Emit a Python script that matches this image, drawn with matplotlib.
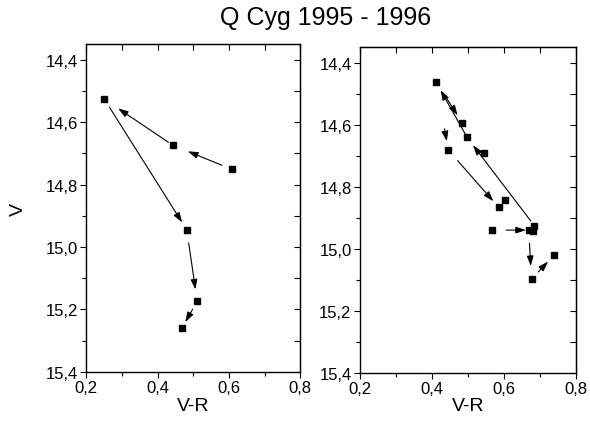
import matplotlib
matplotlib.use("Agg")
import matplotlib.pyplot as plt
from matplotlib.ticker import MultipleLocator, FuncFormatter

plt.rcParams['font.family'] = ['Liberation Sans', 'DejaVu Sans']

# 1995 - left panel
vr_1995 = [0.251, 0.442, 0.608, 0.482, 0.511, 0.468]
v_1995 = [14.526, 14.673, 14.751, 14.945, 15.174, 15.260]
# arrows: (from, to)
arrows_1995 = [(2, 1), (1, 0), (0, 3), (3, 4), (4, 5)]
# gap left at tail / head of each arrow, in points
gaps_1995 = [(7.6, 12), (3.6, 12), (7, 6.3), (9.4, 8.6), (6.5, 5)]

# 1996 - right panel
vr_1996 = [0.411, 0.485, 0.498, 0.446, 0.546, 0.586, 0.604,
           0.568, 0.669, 0.685, 0.680, 0.677, 0.740]
v_1996 = [14.461, 14.594, 14.641, 14.682, 14.692, 14.867, 14.844,
          14.940, 14.940, 14.926, 14.944, 15.098, 15.020]
arrows_1996 = [(2, 0), (0, 1), (0, 3), (9, 2), (3, 5), (7, 8), (8, 11), (11, 12)]
gaps_1996 = [(3, 7), (14, 6.5), (34.5, 6.5), (4.3, 7), (10, 6), (10, 2), (9.4, 9.4), (7, 6.5)]

comma = FuncFormatter(lambda v, pos: f"{v:.1f}".replace(".", ","))


def setup_axes(ax):
    ax.set_xlim(0.2, 0.8)
    ax.set_ylim(15.4, 14.35)
    ax.xaxis.set_major_locator(MultipleLocator(0.2))
    ax.xaxis.set_minor_locator(MultipleLocator(0.1))
    ax.yaxis.set_major_locator(MultipleLocator(0.2))
    ax.yaxis.set_minor_locator(MultipleLocator(0.1))
    ax.xaxis.set_major_formatter(comma)
    ax.yaxis.set_major_formatter(comma)
    ax.tick_params(which='both', direction='out', labelsize=12, width=0.8, pad=2)
    ax.tick_params(which='major', length=4)
    ax.tick_params(which='minor', length=3)
    for s in ax.spines.values():
        s.set_linewidth(1.0)
    # top / right ticks point inward
    top = ax.secondary_xaxis('top')
    top.xaxis.set_major_locator(MultipleLocator(0.2))
    top.xaxis.set_minor_locator(MultipleLocator(0.1))
    top.tick_params(which='both', direction='in', labeltop=False, length=4, width=0.8)
    right = ax.secondary_yaxis('right')
    right.yaxis.set_major_locator(MultipleLocator(0.2))
    right.yaxis.set_minor_locator(MultipleLocator(0.1))
    right.tick_params(which='both', direction='in', labelright=False, length=4, width=0.8)
    ax.set_xlabel("V-R", fontsize=14, labelpad=1)


def draw(ax, x, y, arrows, gaps):
    ax.plot(x, y, 's', color='black', markersize=5, linestyle='none')
    for (i, j), (ga, gb) in zip(arrows, gaps):
        ax.annotate("", xy=(x[j], y[j]), xytext=(x[i], y[i]),
                    arrowprops=dict(arrowstyle="-|>,head_length=0.6,head_width=0.2",
                                    color='black', lw=0.8,
                                    shrinkA=ga, shrinkB=gb))


fig = plt.figure(figsize=(5.9, 4.31), dpi=100)
ax1 = fig.add_axes([0.146, 0.135, 0.363, 0.760])
ax2 = fig.add_axes([0.610, 0.133, 0.366, 0.755])

draw(ax1, vr_1995, v_1995, arrows_1995, gaps_1995)
draw(ax2, vr_1996, v_1996, arrows_1996, gaps_1996)
setup_axes(ax1)
setup_axes(ax2)
ax1.set_ylabel("V", fontsize=14, labelpad=13)

fig.suptitle("Q Cyg 1995 - 1996", x=0.551, y=0.985, fontsize=18)

fig.savefig("out.png", dpi=100)
